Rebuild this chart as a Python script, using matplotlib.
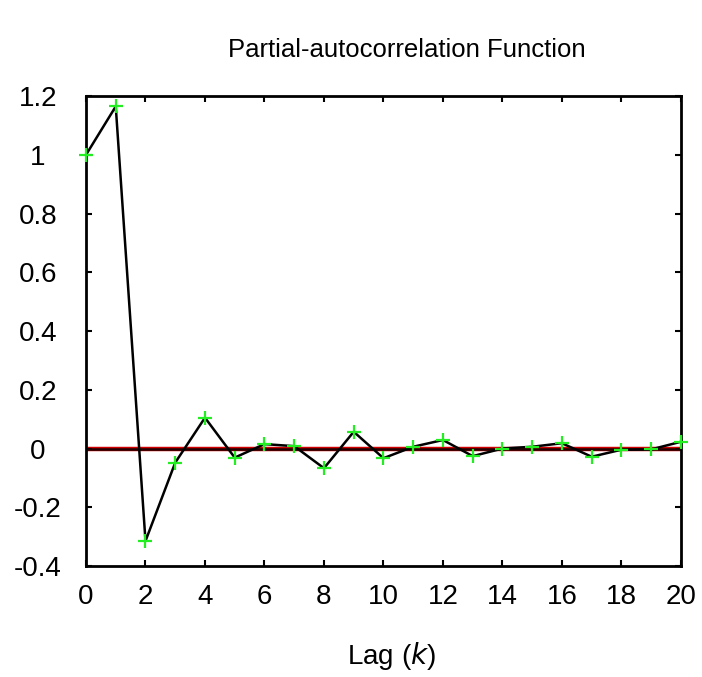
import matplotlib
matplotlib.use("Agg")
import matplotlib.pyplot as plt

plt.rcParams["font.family"] = ["Liberation Sans", "DejaVu Sans"]

# PACF values
lags = list(range(21))
pacf = [1.0, 1.165, -0.315, -0.048, 0.105, -0.031, 0.015, 0.008, -0.067, 0.057,
        -0.033, 0.006, 0.029, -0.026, 0.0, 0.006, 0.018, -0.028, -0.004, -0.003, 0.023]

x_ticks = list(range(0, 21, 2))
y_ticks = [-0.4, -0.2, 0, 0.2, 0.4, 0.6, 0.8, 1, 1.2]
y_tick_labels = ["-0.4", "-0.2", "0", "0.2", "0.4", "0.6", "0.8", "1", "1.2"]

fig = plt.figure(figsize=(7.02, 6.77), dpi=100)
ax = fig.add_axes([0.1225, 0.164, 0.8475, 0.694])

ax.axhline(0, color="#d00000", lw=3.2, zorder=1)
ax.axhline(0, color="#200000", lw=1.8, zorder=2)
ax.plot(lags, pacf, color="black", lw=1.8, zorder=3)
ax.plot(lags, pacf, ls="none", marker="+", ms=10, mew=1.6, color="#22ee22",
        zorder=4, clip_on=False)

ax.set_xlim(0, 20)
ax.set_ylim(-0.4, 1.2)
ax.set_xticks(x_ticks)
ax.set_yticks(y_ticks)
ax.set_yticklabels(y_tick_labels, ha="center")
ax.tick_params(direction="in", length=4, width=1.5, labelsize=20,
               top=True, right=True)
ax.tick_params(axis="x", pad=13)
ax.tick_params(axis="y", pad=34.5)
for s in ax.spines.values():
    s.set_linewidth(2)

fig.text(0.558, 0.031, "Lag ($\\mathit{k}$)", ha="center", va="center",
         fontsize=20)
fig.text(0.58, 0.926, "Partial-autocorrelation Function", ha="center",
         va="center", fontsize=18.5)

fig.savefig("out.png", dpi=100)
